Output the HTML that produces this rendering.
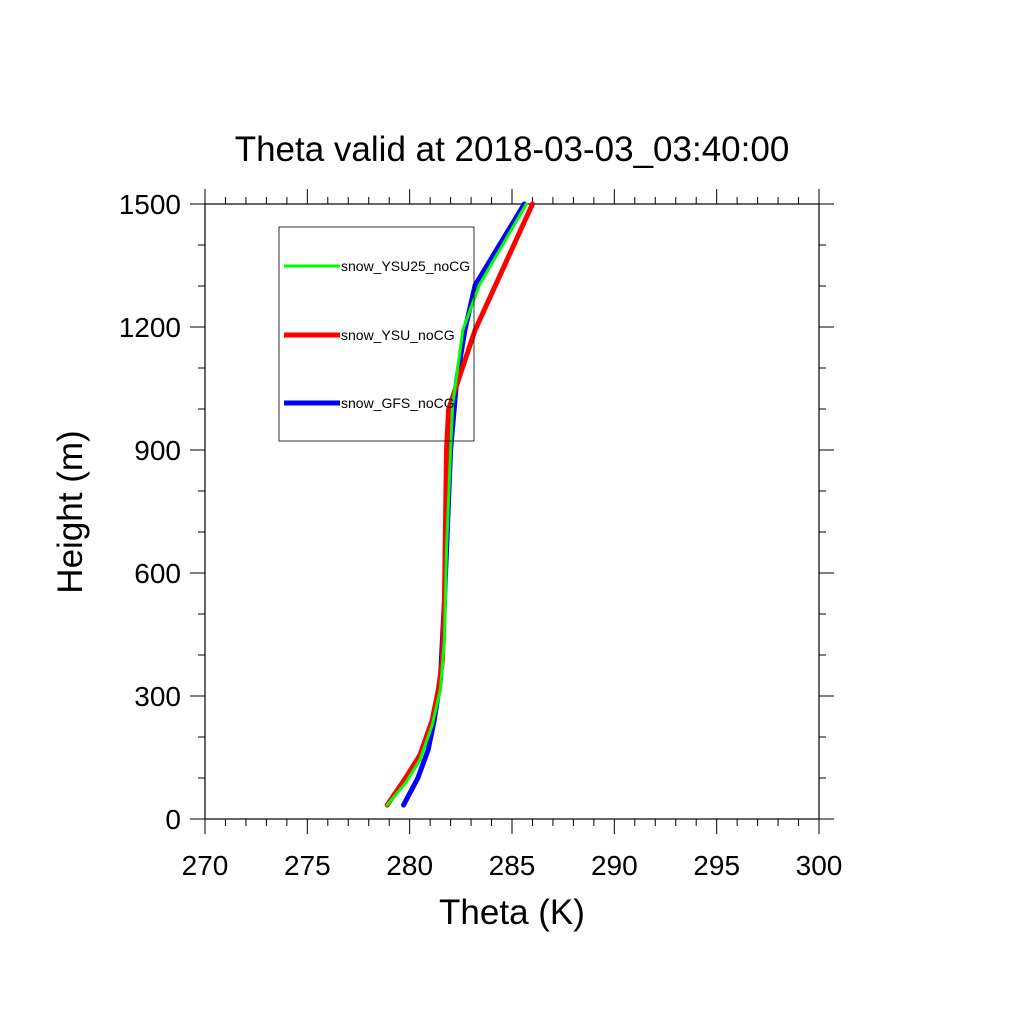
<!DOCTYPE html>
<html><head><meta charset="utf-8"><style>body{margin:0;background:#fff}svg{display:block;font-family:"Liberation Sans",sans-serif}</style></head>
<body>
<svg id="c" width="1024" height="1024" viewBox="0 0 1024 1024">
<text x="512" y="161" font-size="35" text-anchor="middle">Theta valid at 2018-03-03_03:40:00</text>
<rect x="205" y="204" width="614" height="615" fill="none" stroke="#000" stroke-width="1.2"/>
<g id="ticks"></g>
<g id="series"></g>
<text x="512" y="924" font-size="35" text-anchor="middle">Theta (K)</text>
<text transform="translate(82,512) rotate(-90)" font-size="35" text-anchor="middle">Height (m)</text>
<g>
<rect x="279" y="227" width="195" height="214" fill="none" stroke="#000" stroke-width="0.8"/>
<line x1="284" y1="266" x2="340" y2="266" stroke="#00ff00" stroke-width="3"/>
<text x="341" y="271" font-size="14">snow_YSU25_noCG</text>
<line x1="284" y1="335" x2="340" y2="335" stroke="#ff0000" stroke-width="5"/>
<text x="341" y="340" font-size="14">snow_YSU_noCG</text>
<line x1="284" y1="403" x2="340" y2="403" stroke="#0000ff" stroke-width="5"/>
<text x="341" y="408" font-size="14">snow_GFS_noCG</text>
</g>
</svg>
<script>
const xTicks=[270,275,280,285,290,295,300];
const yTicks=[0,300,600,900,1200,1500];
const heightsRed=[34,100,156,241,315,388,534,900,998,1059,1193,1500];
const thetaRed=[278.9,279.8,280.5,281.1,281.4,281.6,281.7,281.8,281.9,282.3,283.2,286.0];
const heightsGreen=[34,88,144,229,315,437,656,900,1010,1193,1302,1500];
const thetaGreen=[278.9,279.8,280.5,281.1,281.5,281.7,281.8,282.0,282.1,282.6,283.4,285.7];
const heightsBlue=[34,100,168,241,339,534,900,1071,1193,1302,1500];
const thetaBlue=[279.7,280.4,280.9,281.2,281.5,281.7,282.0,282.3,282.7,283.2,285.6];
const X0=205,X1=819,Y0=819,Y1=204;
const sx=v=>X0+(v-270)/30*(X1-X0);
const sy=v=>Y0-(v/1500)*(Y0-Y1);
const NS='http://www.w3.org/2000/svg';
const tg=document.getElementById('ticks'),sg=document.getElementById('series');
function ln(x1,y1,x2,y2,g){const l=document.createElementNS(NS,'line');l.setAttribute('x1',x1);l.setAttribute('y1',y1);l.setAttribute('x2',x2);l.setAttribute('y2',y2);l.setAttribute('stroke','#000');l.setAttribute('stroke-width','1');


g.appendChild(l);}
for(let v=270;v<=300;v++){const L=(v%5===0)?15:7;const x=sx(v);ln(x,Y0,x,Y0+L,tg);ln(x,Y1,x,Y1-L,tg);}
for(let v=0;v<=1500;v+=100){const L=(v%300===0)?15:7;const y=sy(v);ln(X0,y,X0-L,y,tg);ln(X1,y,X1+L,y,tg);}
xTicks.forEach(v=>{const t=document.createElementNS(NS,'text');t.setAttribute('x',sx(v));t.setAttribute('y',875);t.setAttribute('font-size','28');t.setAttribute('text-anchor','middle');t.textContent=v;


tg.appendChild(t);});
yTicks.forEach(v=>{const t=document.createElementNS(NS,'text');t.setAttribute('x',181);t.setAttribute('y',sy(v)+10);t.setAttribute('font-size','28');t.setAttribute('text-anchor','end');t.textContent=v;


tg.appendChild(t);});
function series(xs,hs,col,w,name){const p=document.createElementNS(NS,'polyline');p.setAttribute('points',xs.map((v,i)=>sx(v)+','+sy(hs[i])).join(' '));p.setAttribute('fill','none');p.setAttribute('stroke',col);p.setAttribute('stroke-width',w);p.setAttribute('stroke-linejoin','round');p.setAttribute('stroke-linecap','round');


sg.appendChild(p);}
series(thetaBlue,heightsBlue,'#0000ff',5,'series-gfs');
series(thetaRed,heightsRed,'#ff0000',5,'series-ysu');
series(thetaGreen,heightsGreen,'#00ff00',3,'series-ysu25');
</script>
</body></html>
